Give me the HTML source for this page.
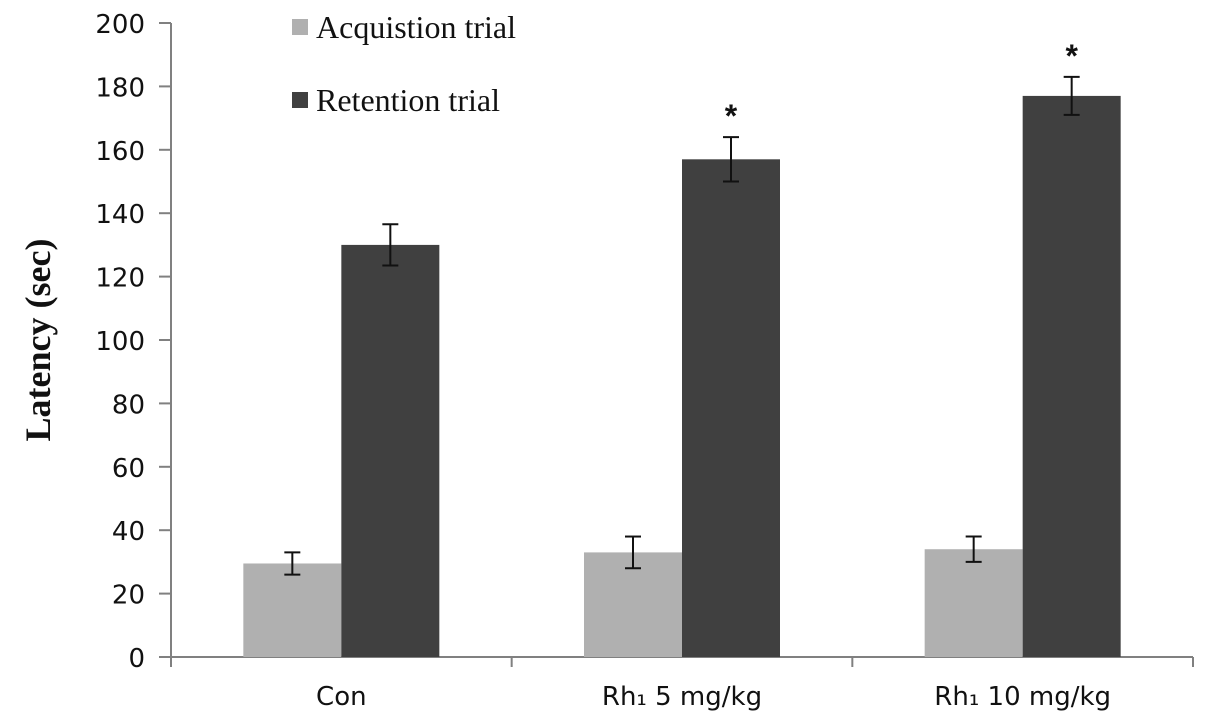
<!DOCTYPE html>
<html><head><meta charset="utf-8"><style>
html,body{margin:0;padding:0;background:#fff;width:1205px;height:723px;overflow:hidden}
</style></head><body>
<svg id="chart" width="1205" height="723" xmlns="http://www.w3.org/2000/svg">
<g id="axes"></g><g id="bars"></g>
<g>
<rect x="292" y="19" width="16" height="16" fill="#b0b0b0"/>
<text x="316" y="38" font-family="Liberation Serif, serif" font-size="32" fill="#111">Acquistion trial</text>
<rect x="292" y="92" width="16" height="16" fill="#404040"/>
<text x="316" y="111" font-family="Liberation Serif, serif" font-size="32" fill="#111">Retention trial</text>
</g>
<text transform="translate(50,340) rotate(-90)" text-anchor="middle" font-family="Liberation Serif, serif" font-weight="bold" font-size="36" fill="#111">Latency (sec)</text>
</svg>
<script>
const categories = ["Con", "Rh\u2081 5 mg/kg", "Rh\u2081 10 mg/kg"];
const acquisition = [29.5, 33, 34];
const acquisitionErr = [3.5, 5, 4];
const retention = [130, 157, 177];
const retentionErr = [6.5, 7, 6];
const significant = [false, true, true];
const yTicks = [0, 20, 40, 60, 80, 100, 120, 140, 160, 180, 200];

const NS = "http://www.w3.org/2000/svg";
const x0 = 171, x1 = 1193, y0 = 657, y1 = 23, yMax = 200;
const catW = (x1 - x0) / categories.length;
const barW = 98;
function yScale(v){ return y0 - (v / yMax) * (y0 - y1); }
function xCenter(i){ return x0 + catW * (i + 0.5); }
function mk(tag, attrs, parent){ const e = document.createElementNS(NS, tag); for (const k in attrs) e.setAttribute(k, attrs[k]); parent.appendChild(e); return e; }
const axes = document.getElementById('axes');
const bars = document.getElementById('bars');

let yl = mk('line', {x1:x0, y1:y1, x2:x0, y2:y0, stroke:'#808080', 'stroke-width':2}, axes);


let xl = mk('line', {x1:x0-12, y1:y0, x2:x1, y2:y0, stroke:'#808080', 'stroke-width':2}, axes);


yTicks.forEach(t => {
  const y = yScale(t);
  const tk = mk('line', {x1:x0-12, y1:y, x2:x0, y2:y, stroke:'#808080', 'stroke-width':2}, axes);
  
  
  const lb = mk('text', {x:145, y:y+10, 'text-anchor':'end', 'font-family':'DejaVu Sans, Liberation Sans, sans-serif', 'font-size':26, fill:'#111'}, axes);
  lb.textContent = t;
  
  
});
for (let i = 0; i <= categories.length; i++) {
  const x = x0 + catW * i;
  const tk = mk('line', {x1:x, y1:y0, x2:x, y2:y0+10, stroke:'#808080', 'stroke-width':2}, axes);
  
  
}
categories.forEach((c, i) => {
  const lb = mk('text', {x:xCenter(i), y:705, 'text-anchor':'middle', 'font-family':'DejaVu Sans, Liberation Sans, sans-serif', 'font-size':26, fill:'#111'}, axes);
  lb.textContent = c;
  
  
});
function errBar(cx, v, e){
  const g = mk('g', {stroke:'#111', 'stroke-width':2}, bars);
  
  
  mk('line', {x1:cx, y1:yScale(v+e), x2:cx, y2:yScale(v-e)}, g);
  mk('line', {x1:cx-8, y1:yScale(v+e), x2:cx+8, y2:yScale(v+e)}, g);
  mk('line', {x1:cx-8, y1:yScale(v-e), x2:cx+8, y2:yScale(v-e)}, g);
}
categories.forEach((c, i) => {
  const cx = xCenter(i);
  const a = mk('rect', {x:cx-barW, y:yScale(acquisition[i]), width:barW, height:y0-yScale(acquisition[i]), fill:'#b0b0b0'}, bars);
  
  
  const r = mk('rect', {x:cx, y:yScale(retention[i]), width:barW, height:y0-yScale(retention[i]), fill:'#404040'}, bars);
  
  
  errBar(cx-barW/2, acquisition[i], acquisitionErr[i]);
  errBar(cx+barW/2, retention[i], retentionErr[i]);
  if (significant[i]) {
    const s = mk('text', {x:cx+barW/2, y:yScale(retention[i]+retentionErr[i])-10, 'text-anchor':'middle', 'font-family':'Liberation Sans, sans-serif', 'font-weight':'bold', 'font-size':32, fill:'#111'}, bars);
    s.textContent = '*';
    
    
  }
});
</script>
</body></html>
